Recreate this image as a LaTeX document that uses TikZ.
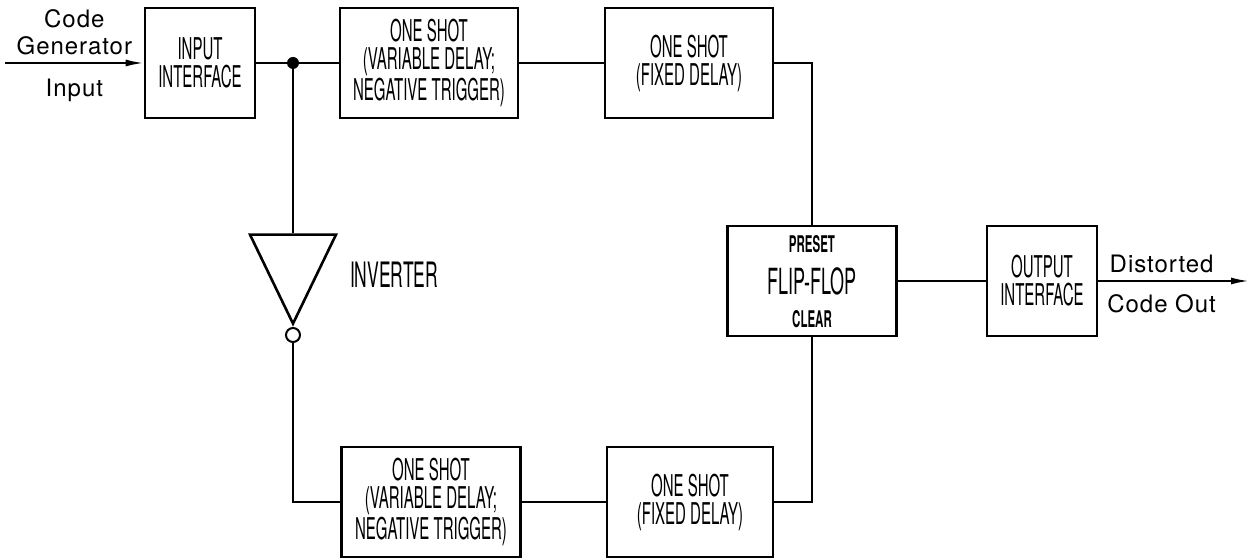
\documentclass[tikz,border=0pt]{standalone}
\usepackage{fontspec}
\setmainfont{TeX Gyre Heros}
\newfontfamily\boxfont[FakeStretch=0.5]{TeX Gyre Heros}
\newfontfamily\labfont[LetterSpace=4]{TeX Gyre Heros}
\usetikzlibrary{arrows.meta,shapes.geometric}
\tikzset{
  block/.style={draw=black,line width=1.3pt,minimum height=55pt,
                align=center,inner sep=2pt,
                font=\boxfont\fontsize{15}{14}\selectfont},
  ffport/.style={inner sep=1pt,font=\boxfont\bfseries\fontsize{11.5}{11}\selectfont},
  wire/.style={line width=1pt},
  sigarrow/.style={wire,-{Latex[length=9pt,width=3.5pt]}},
  sidelabel/.style={font=\labfont\fontsize{12}{13.5}\selectfont,align=center},
}

\begin{document}
\begin{tikzpicture}[x=0.5pt,y=-0.5pt]
  \useasboundingbox (0,0) rectangle (1250,560);
  % top row
  \node[block,minimum width=55pt](inif)at(200,63){INPUT\\INTERFACE};
  \node[block,minimum width=89pt](vd1)at(429,63)
    {ONE SHOT\\(VARIABLE DELAY;\\NEGATIVE TRIGGER)};
  \node[block,minimum width=84pt](fd1)at(689,63){ONE SHOT\\(FIXED DELAY)};
  % flip-flop and output side
  \node[block,minimum width=84.5pt,
        font=\boxfont\fontsize{18}{18}\selectfont](ff)at(812,281){FLIP-FLOP};
  \node[ffport](preset)at([yshift=-9.5pt]ff.north){PRESET};
  \node[ffport](clear)at([yshift=9pt]ff.south){CLEAR};
  \node[block,minimum width=55pt](outif)at(1042,281){OUTPUT\\INTERFACE};
  % bottom row
  \node[block,minimum width=89.5pt](vd2)at(431,502)
    {ONE SHOT\\(VARIABLE DELAY;\\NEGATIVE TRIGGER)};
  \node[block,minimum width=83pt](fd2)at(690,502){ONE SHOT\\(FIXED DELAY)};
  % inverter
  \node[draw,line width=1.3pt,isosceles triangle,shape border rotate=-90,
        isosceles triangle stretches,minimum width=43pt,minimum height=44.5pt,
        inner sep=0pt,anchor=apex](inv)at(293,327){};
  \node[draw,circle,line width=1pt,minimum size=7pt,inner sep=0pt,
        anchor=north](bub)at(inv.apex){};
  \node[font=\boxfont\fontsize{17.5}{17}\selectfont,anchor=west](invlbl)
    at(343,275){INVERTER};
  \coordinate(jn)at(293,63);
  \coordinate(cin)at(5,63);
  \coordinate(cout)at(1249,281);
  % connectors
  \draw[sigarrow](cin)--(inif.west)
    node[midway,above,sidelabel]{Code\\Generator}
    node[midway,below=4pt,sidelabel]{Input};
  \draw[wire](inif.east)--(jn)--(vd1.west);
  \fill(jn)circle(3pt);
  \draw[wire](vd1.east)--(fd1.west);
  \draw[wire](fd1.east)-|(ff.north);
  \draw[wire](jn)--(inv.north);
  \draw[wire](bub.south)|-(vd2.west);
  \draw[wire](vd2.east)--(fd2.west);
  \draw[wire](fd2.east)-|(ff.south);
  \draw[wire](ff.east)--(outif.west);
  \draw[sigarrow](outif.east)--(cout)
    node[pos=0.42,above,sidelabel]{Distorted}
    node[pos=0.42,below=3pt,sidelabel]{Code Out};
\end{tikzpicture}
\end{document}
